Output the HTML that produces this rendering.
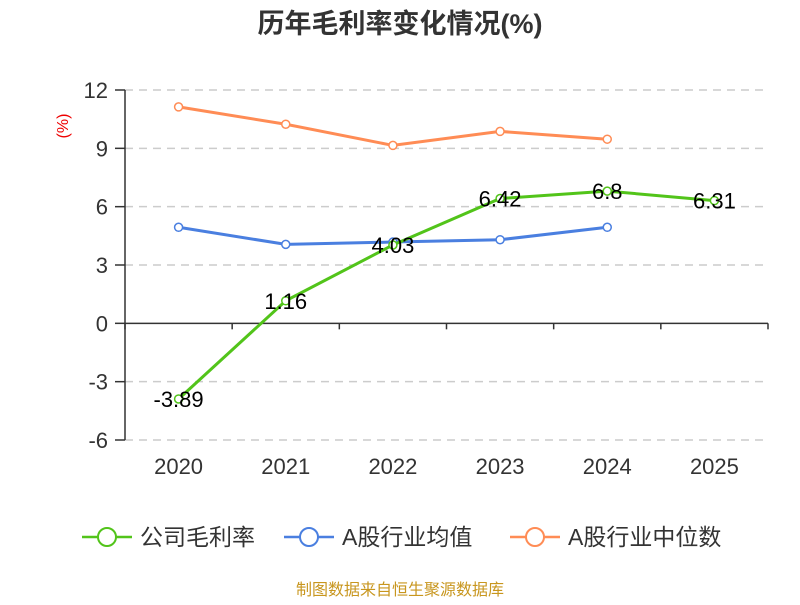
<!DOCTYPE html>
<html><head><meta charset="utf-8"><style>
body{margin:0;background:#fff;font-family:"Liberation Sans","Noto Sans CJK SC",sans-serif}
svg text{font-family:"Liberation Sans","Noto Sans CJK SC",sans-serif}
</style></head><body>
<svg id="chart" width="800" height="600">
<text x="400" y="33" text-anchor="middle" font-size="27" font-weight="bold" fill="#333">历年毛利率变化情况(%)</text>
<text transform="translate(68,126) rotate(-90)" text-anchor="middle" font-size="16" fill="#e00">(%)</text>
<g id="grid"></g><g id="axes"></g><g id="series"></g>
<g id="legend"></g>
<text x="400" y="595" text-anchor="middle" font-size="16" fill="#c8961e">制图数据来自恒生聚源数据库</text>
</svg>
<script>
const categories=["2020","2021","2022","2023","2024","2025"];
const yTicks=[12,9,6,3,0,-3,-6];
const companyMargin=[-3.89,1.16,4.03,6.42,6.8,6.31];
const industryAvg=[4.94,4.06,4.18,4.3,4.94];
const industryMedian=[11.13,10.24,9.15,9.87,9.47];
const NS="http://www.w3.org/2000/svg";
const L=125,R=768,T=90,B=440,ymin=-6,ymax=12;
const bw=(R-L)/categories.length;
const xs=i=>L+bw*(i+0.5);
const ys=v=>B-(v-ymin)/(ymax-ymin)*(B-T);
function mk(p,t,a){const e=document.createElementNS(NS,t);for(const k in a)e.setAttribute(k,a[k]);p.appendChild(e);return e;}
const grid=document.getElementById('grid'),axes=document.getElementById('axes'),ser=document.getElementById('series');
yTicks.forEach(v=>{
 if(v!==0){const g=mk(grid,'line',{x1:L,x2:R,y1:ys(v),y2:ys(v),stroke:'#ccc','stroke-dasharray':'8,6','stroke-width':1.5});
 
 }
 const tk=mk(axes,'line',{x1:L-10,x2:L,y1:ys(v),y2:ys(v),stroke:'#333','stroke-width':1.5});
 
 
 const t=mk(axes,'text',{x:L-17,y:ys(v)+8,'text-anchor':'end','font-size':22,fill:'#333'});t.textContent=v;
 
 
});
const ya=mk(axes,'line',{x1:L,x2:L,y1:T,y2:B,stroke:'#333','stroke-width':1.5});


const xa=mk(axes,'line',{x1:L,x2:R,y1:ys(0),y2:ys(0),stroke:'#333','stroke-width':1.5});


for(let i=0;i<=categories.length;i++){const tk=mk(axes,'line',{x1:L+bw*i,x2:L+bw*i,y1:ys(0),y2:ys(0)+6,stroke:'#333','stroke-width':1.5});
 
 }
categories.forEach((c,i)=>{const t=mk(axes,'text',{x:xs(i),y:474,'text-anchor':'middle','font-size':22,fill:'#333'});t.textContent=c;
 
 });
function series(vals,color,name,labels){
 const g=mk(ser,'g',{});
 
 
 mk(g,'polyline',{points:vals.map((v,i)=>xs(i)+','+ys(v)).join(' '),fill:'none',stroke:color,'stroke-width':3});
 vals.forEach((v,i)=>{const c=mk(g,'circle',{cx:xs(i),cy:ys(v),r:4,fill:'#fff',stroke:color,'stroke-width':1.5});
  
  
  if(labels){const t=mk(g,'text',{x:xs(i),y:ys(v)+8,'text-anchor':'middle','font-size':22,fill:'#000'});t.textContent=v;
  
  }});
}
series(industryMedian,'#ff8c55','industry-median-line',false);
series(industryAvg,'#4a7fe0','industry-average-line',false);
series(companyMargin,'#52c41a','company-margin-line',true);
const leg=document.getElementById('legend');
[["公司毛利率","#52c41a",82],["A股行业均值","#4a7fe0",284],["A股行业中位数","#ff8c55",510]].forEach(([n,c,x])=>{
 const g=mk(leg,'g',{});
 
 
 mk(g,'line',{x1:x,x2:x+50,y1:537,y2:537,stroke:c,'stroke-width':2.5});
 mk(g,'circle',{cx:x+25,cy:537,r:9,fill:'#fff',stroke:c,'stroke-width':2});
 const t=mk(g,'text',{x:x+58,y:545,'font-size':23,fill:'#333'});t.textContent=n;
});
</script>
</body></html>
